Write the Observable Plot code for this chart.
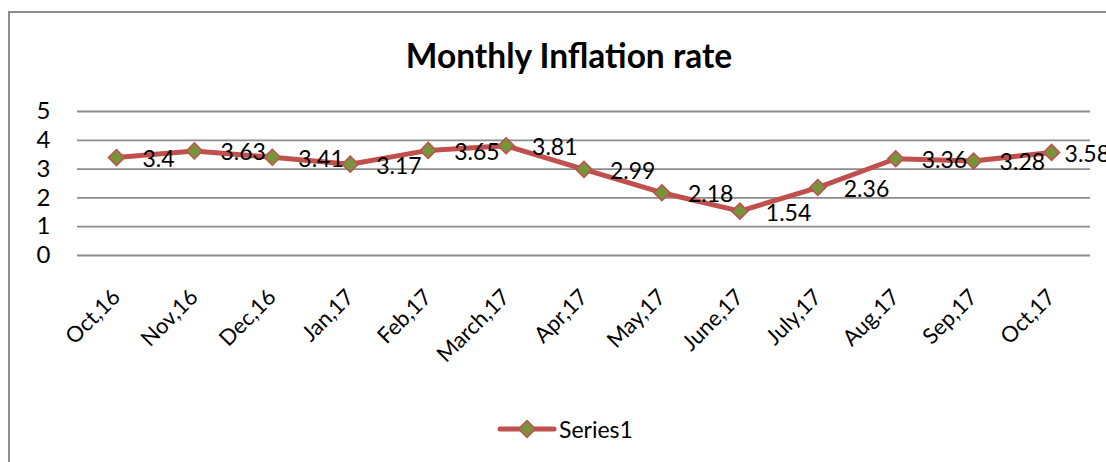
<!DOCTYPE html>
<html>
<head>
<meta charset="utf-8">
<script src="https://cdn.jsdelivr.net/npm/d3@7"></script>
<script src="https://cdn.jsdelivr.net/npm/@observablehq/plot@0.6"></script>
<style>
  html, body { margin: 0; padding: 0; background: #fff; }
  #wrap { position: relative; width: 1106px; height: 462px; overflow: hidden; background: #fff; font-family: Lato, "Open Sans", sans-serif; }
  #frame { position: absolute; left: 8px; top: 11px; width: 1200px; height: 600px; border: 2px solid #8e8e8e; box-sizing: border-box; }
  #title { position: absolute; left: 0; width: 1138px; top: 35px; text-align: center; font-weight: bold; font-size: 33.5px; color: #000; line-height: 40px; }
  #chart { position: absolute; left: 0; top: 90px; }
  #legend { position: absolute; left: 497px; top: 415px; display: flex; align-items: center; font-size: 23px; color: #000; }
</style>
</head>
<body>
<div id="wrap">
  <div id="frame"></div>
  <div id="title">Monthly Inflation rate</div>
  <div id="chart"></div>
  <div id="legend"></div>
</div>
<script>
const months = ["Oct,16","Nov,16","Dec,16","Jan,17","Feb,17","March,17","Apr,17","May,17","June,17","July,17","Aug.17","Sep,17","Oct,17"];
const rates = [3.4, 3.63, 3.41, 3.17, 3.65, 3.81, 2.99, 2.18, 1.54, 2.36, 3.36, 3.28, 3.58];
const yTicks = [0, 1, 2, 3, 4, 5];
const seriesName = "Series1";

const lineColor = "#C0504D";
const markerFill = "#77933C";

const data = months.map((m, i) => ({month: m, rate: rates[i]}));
const labelOpts = {x: "month", y: "rate", text: d => String(d.rate), textAnchor: "start", lineAnchor: "middle", dy: 2, fontSize: 23, fill: "#000"};

const chart = Plot.plot({
  width: 1106,
  height: 300,
  marginLeft: 77,
  marginRight: 16,
  marginTop: 21,
  marginBottom: 135,
  style: {fontFamily: "Lato, 'Open Sans', sans-serif", color: "#000", background: "transparent", overflow: "visible"},
  x: {type: "band", domain: months, padding: 0, round: false},
  y: {domain: [0, 5]},
  marks: [
    Plot.ruleY(yTicks, {stroke: "#8c8c8c", strokeWidth: 1.8, strokeOpacity: 1}),
    Plot.axisY({ticks: yTicks, tickSize: 0, tickPadding: 27, fontSize: 24, tickFormat: d => String(d), label: null}),
    Plot.axisX({tickSize: 0, tickRotate: -45, tickPadding: 38, fontSize: 22, label: null}),
    Plot.line(data, {x: "month", y: "rate", stroke: lineColor, strokeWidth: 5, strokeLinejoin: "round", strokeLinecap: "round"}),
    Plot.dot(data, {x: "month", y: "rate", symbol: "square", rotate: 45, r: 6.4, fill: markerFill, stroke: lineColor, strokeWidth: 1.5}),
    Plot.text(data.slice(0, -1), {...labelOpts, dx: 26}),
    Plot.text(data.slice(-1), {...labelOpts, dx: 13})
  ]
});
document.getElementById("chart").appendChild(chart);

// legend
const leg = document.getElementById("legend");
leg.innerHTML = `<svg width="60" height="20" style="overflow:visible">
  <line x1="3" y1="10" x2="57" y2="10" stroke="${lineColor}" stroke-width="5" stroke-linecap="round"/>
  <rect x="24" y="4" width="12" height="12" transform="rotate(45 30 10)" fill="${markerFill}" stroke="${lineColor}" stroke-width="1.5"/>
</svg><span style="margin-left:2px">${seriesName}</span>`;
</script>
</body>
</html>
